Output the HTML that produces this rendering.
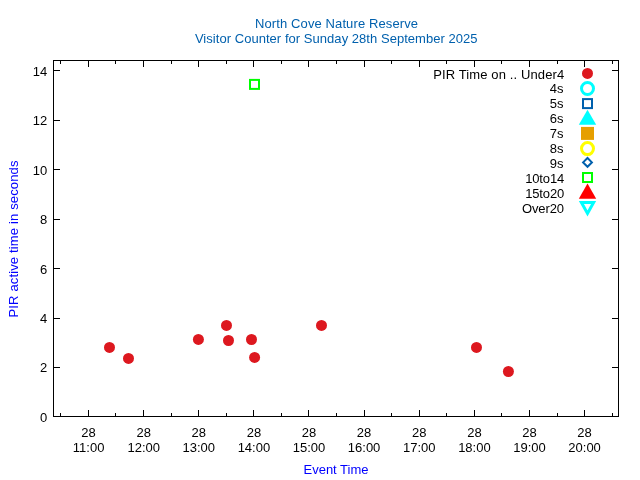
<!DOCTYPE html>
<html><head><meta charset="utf-8"><title>North Cove Nature Reserve</title>
<style>
html,body{margin:0;padding:0;background:#fff;}
body{width:640px;height:480px;overflow:hidden;font-family:"Liberation Sans",sans-serif;}
svg{display:block;position:absolute;left:0;top:0;will-change:transform;}
text{font-family:"Liberation Sans",sans-serif;font-size:13px;}
.k{fill:#000;shape-rendering:crispEdges;}
</style></head><body>
<svg width="640" height="480" viewBox="0 0 640 480">
<rect x="0" y="0" width="640" height="480" fill="#ffffff"/>

<g class="k">
<rect x="53" y="60" width="566" height="1"/>
<rect x="53" y="416" width="566" height="1"/>
<rect x="53" y="60" width="1" height="357"/>
<rect x="618" y="60" width="1" height="357"/>
<rect x="88" y="410" width="1" height="6"/>
<rect x="88" y="61" width="1" height="6"/>
<rect x="143" y="410" width="1" height="6"/>
<rect x="143" y="61" width="1" height="6"/>
<rect x="198" y="410" width="1" height="6"/>
<rect x="198" y="61" width="1" height="6"/>
<rect x="253" y="410" width="1" height="6"/>
<rect x="253" y="61" width="1" height="6"/>
<rect x="308" y="410" width="1" height="6"/>
<rect x="308" y="61" width="1" height="6"/>
<rect x="364" y="410" width="1" height="6"/>
<rect x="364" y="61" width="1" height="6"/>
<rect x="419" y="410" width="1" height="6"/>
<rect x="419" y="61" width="1" height="6"/>
<rect x="474" y="410" width="1" height="6"/>
<rect x="474" y="61" width="1" height="6"/>
<rect x="529" y="410" width="1" height="6"/>
<rect x="529" y="61" width="1" height="6"/>
<rect x="584" y="410" width="1" height="6"/>
<rect x="584" y="61" width="1" height="6"/>
<rect x="60" y="413" width="1" height="3"/>
<rect x="60" y="61" width="1" height="3"/>
<rect x="115" y="413" width="1" height="3"/>
<rect x="115" y="61" width="1" height="3"/>
<rect x="171" y="413" width="1" height="3"/>
<rect x="171" y="61" width="1" height="3"/>
<rect x="226" y="413" width="1" height="3"/>
<rect x="226" y="61" width="1" height="3"/>
<rect x="281" y="413" width="1" height="3"/>
<rect x="281" y="61" width="1" height="3"/>
<rect x="336" y="413" width="1" height="3"/>
<rect x="336" y="61" width="1" height="3"/>
<rect x="391" y="413" width="1" height="3"/>
<rect x="391" y="61" width="1" height="3"/>
<rect x="446" y="413" width="1" height="3"/>
<rect x="446" y="61" width="1" height="3"/>
<rect x="501" y="413" width="1" height="3"/>
<rect x="501" y="61" width="1" height="3"/>
<rect x="557" y="413" width="1" height="3"/>
<rect x="557" y="61" width="1" height="3"/>
<rect x="612" y="413" width="1" height="3"/>
<rect x="612" y="61" width="1" height="3"/>
<rect x="54" y="416" width="6" height="1"/>
<rect x="612" y="416" width="6" height="1"/>
<rect x="54" y="367" width="6" height="1"/>
<rect x="612" y="367" width="6" height="1"/>
<rect x="54" y="318" width="6" height="1"/>
<rect x="612" y="318" width="6" height="1"/>
<rect x="54" y="268" width="6" height="1"/>
<rect x="612" y="268" width="6" height="1"/>
<rect x="54" y="219" width="6" height="1"/>
<rect x="612" y="219" width="6" height="1"/>
<rect x="54" y="169" width="6" height="1"/>
<rect x="612" y="169" width="6" height="1"/>
<rect x="54" y="120" width="6" height="1"/>
<rect x="612" y="120" width="6" height="1"/>
<rect x="54" y="70" width="6" height="1"/>
<rect x="612" y="70" width="6" height="1"/>
</g>
<g fill="#000" text-anchor="end">
<text x="47.3" y="422">0</text>
<text x="47.3" y="372">2</text>
<text x="47.3" y="323">4</text>
<text x="47.3" y="274">6</text>
<text x="47.3" y="224">8</text>
<text x="47.3" y="175">10</text>
<text x="47.3" y="125">12</text>
<text x="47.3" y="76">14</text>
</g>
<g fill="#000" text-anchor="middle">
<text x="88.6" y="437">28</text><text x="88.6" y="452">11:00</text>
<text x="143.7" y="437">28</text><text x="143.7" y="452">12:00</text>
<text x="198.8" y="437">28</text><text x="198.8" y="452">13:00</text>
<text x="253.9" y="437">28</text><text x="253.9" y="452">14:00</text>
<text x="309.0" y="437">28</text><text x="309.0" y="452">15:00</text>
<text x="364.1" y="437">28</text><text x="364.1" y="452">16:00</text>
<text x="419.3" y="437">28</text><text x="419.3" y="452">17:00</text>
<text x="474.4" y="437">28</text><text x="474.4" y="452">18:00</text>
<text x="529.5" y="437">28</text><text x="529.5" y="452">19:00</text>
<text x="584.6" y="437">28</text><text x="584.6" y="452">20:00</text>
</g>
<g fill="#0060ad"><text x="255" y="28" textLength="163" lengthAdjust="spacing">North Cove Nature Reserve</text><text x="194.9" y="43" textLength="282.7" lengthAdjust="spacing">Visitor Counter for Sunday 28th September 2025</text></g>
<text x="336" y="474" fill="#0000ff" text-anchor="middle">Event Time</text>
<text transform="translate(18.2,317.5) rotate(-90)" fill="#0000ff" textLength="157" lengthAdjust="spacing">PIR active time in seconds</text>
<g fill="#000" text-anchor="end">
<text x="433.2" y="79" text-anchor="start" textLength="131" lengthAdjust="spacing">PIR Time on .. Under4</text>
<text x="563.4" y="93">4s</text>
<text x="563.4" y="108">5s</text>
<text x="563.4" y="123">6s</text>
<text x="563.4" y="138">7s</text>
<text x="563.4" y="153">8s</text>
<text x="563.4" y="168">9s</text>
<text x="525.2" y="183" text-anchor="start" textLength="39" lengthAdjust="spacing">10to14</text>
<text x="525.2" y="198" text-anchor="start" textLength="39" lengthAdjust="spacing">15to20</text>
<text x="522" y="213" text-anchor="start" textLength="42" lengthAdjust="spacing">Over20</text>
</g>
<circle cx="587.5" cy="73.4" r="5.5" fill="#dd181f"/>
<circle cx="587.5" cy="88.5" r="6" fill="none" stroke="#00ffff" stroke-width="3"/>
<rect x="583.0" y="99.1" width="9" height="9" fill="none" stroke="#0060ad" stroke-width="2"/>
<polygon points="587.5,109.7 596.2,124.8 578.8,124.8" fill="#00ffff"/>
<rect x="581.0" y="126.9" width="13" height="13" fill="#e69f00"/>
<circle cx="587.5" cy="148.6" r="6" fill="none" stroke="#ffff00" stroke-width="3"/>
<polygon points="587.5,158.0 591.9,162.4 587.5,166.8 583.1,162.4" fill="none" stroke="#0060ad" stroke-width="2"/>
<rect x="583.0" y="173.0" width="9" height="9" fill="none" stroke="#00ff00" stroke-width="2"/>
<polygon points="587.5,183.6 596.2,198.8 578.8,198.8" fill="#ff0000"/>
<polygon points="581.4,202.5 593.6,202.5 587.5,213.4" fill="none" stroke="#00ffff" stroke-width="3"/>
<g fill="#dd181f">
<circle cx="109.5" cy="347.4" r="5.5"/>
<circle cx="128.5" cy="358.4" r="5.5"/>
<circle cx="198.4" cy="339.4" r="5.5"/>
<circle cx="226.5" cy="325.4" r="5.5"/>
<circle cx="228.5" cy="340.5" r="5.5"/>
<circle cx="251.5" cy="339.5" r="5.5"/>
<circle cx="254.6" cy="357.4" r="5.5"/>
<circle cx="321.5" cy="325.4" r="5.5"/>
<circle cx="476.5" cy="347.4" r="5.5"/>
<circle cx="508.4" cy="371.5" r="5.5"/>
</g>
<rect x="250" y="79.9" width="9" height="9" fill="none" stroke="#00ff00" stroke-width="2"/>
</svg></body></html>
